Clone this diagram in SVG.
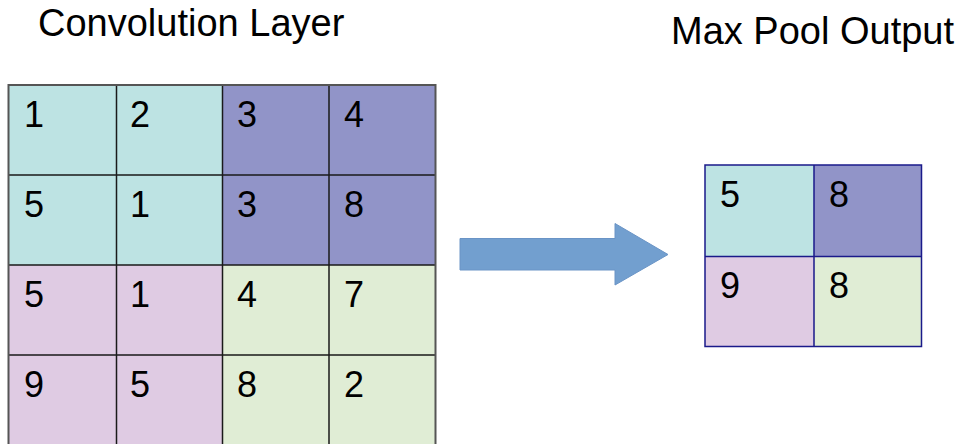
<svg xmlns="http://www.w3.org/2000/svg" width="960" height="444" viewBox="0 0 960 444">
<style>
.t{font-family:"Liberation Sans",Arial,sans-serif;font-size:38px;fill:#000}
.n{font-family:"Liberation Sans",Arial,sans-serif;font-size:36px;fill:#000}
.c1{fill:#bde3e3}.c2{fill:#9194c8}.c3{fill:#dfcbe3}.c4{fill:#e0edd5}
.g{stroke:#1a1a1a;stroke-width:1.5;fill:none}
.o{stroke:#1a1a8a;stroke-width:1.5;fill:none}
</style>
<rect width="960" height="444" fill="#fff"/>
<text class="t" x="38" y="36">Convolution Layer</text>
<text class="t" x="671" y="44">Max Pool Output</text>
<g id="conv">
<rect class="c1" x="8.5" y="85" width="214" height="180"/>
<rect class="c2" x="222.5" y="85" width="213" height="180"/>
<rect class="c3" x="8.5" y="265" width="214" height="181"/>
<rect class="c4" x="222.5" y="265" width="213" height="181"/>
<path class="g" d="M116.5 85V446M222.5 85V446M329 85V446M8.5 175H435.5M8.5 265H435.5M8.5 355H435.5"/>
<path d="M8.5 446V85H435.5V446" fill="none" stroke="#555" stroke-width="2"/>
<text class="n" x="24" y="127">1</text><text class="n" x="130" y="127">2</text><text class="n" x="237" y="127">3</text><text class="n" x="344" y="127">4</text>
<text class="n" x="24" y="217">5</text><text class="n" x="130" y="217">1</text><text class="n" x="237" y="217">3</text><text class="n" x="344" y="217">8</text>
<text class="n" x="24" y="307">5</text><text class="n" x="130" y="307">1</text><text class="n" x="237" y="307">4</text><text class="n" x="344" y="307">7</text>
<text class="n" x="24" y="397">9</text><text class="n" x="130" y="397">5</text><text class="n" x="237" y="397">8</text><text class="n" x="344" y="397">2</text>
</g>
<g id="connectors">
<path d="M460 238.5H615V223.5L668 254.5L615 285V270H460Z" fill="#729fcf" stroke="#6a94c6" stroke-width="1"/>
</g>
<g id="pool">
<rect class="c1" x="705" y="165" width="109" height="91.5"/>
<rect class="c2" x="814" y="165" width="107.5" height="91.5"/>
<rect class="c3" x="705" y="256.5" width="109" height="90"/>
<rect class="c4" x="814" y="256.5" width="107.5" height="90"/>
<path class="o" d="M705 165H921.5V346.5H705ZM814 165V346.5M705 256.5H921.5"/>
<text class="n" x="720" y="207">5</text><text class="n" x="829" y="207">8</text>
<text class="n" x="720" y="298">9</text><text class="n" x="829" y="298">8</text>
</g>
</svg>
